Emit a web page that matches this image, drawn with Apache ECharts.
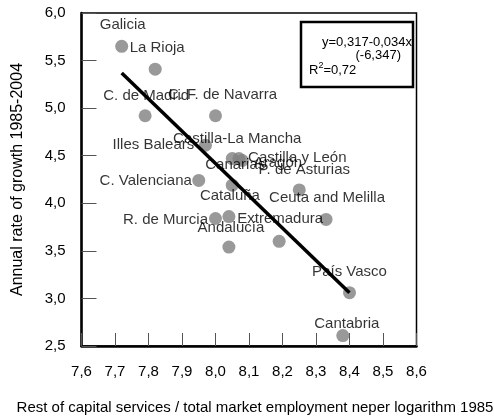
<!DOCTYPE html>
<html>
<head>
<meta charset="utf-8">
<script src="https://cdn.jsdelivr.net/npm/echarts@6/dist/echarts.min.js"></script>
<style>html,body{margin:0;padding:0;background:#fff}#c{width:494px;height:418px}</style>
</head>
<body>
<div id="c"></div>
<script>
var regions = ['Galicia','La Rioja','C. de Madrid','C. F. de Navarra','Illes Balears','Castilla-La Mancha','Aragón','Castilla y León','Canarias','C. Valenciana','P. de Asturias','Cataluña','R. de Murcia','Ceuta and Melilla','Extremadura','Andalucía','País Vasco','Cantabria'];
var capitalLog = [7.72,7.82,7.79,8.00,7.97,8.05,8.07,8.08,8.05,7.95,8.25,8.04,8.00,8.33,8.19,8.04,8.40,8.38];
var growthRate = [5.65,5.41,4.92,4.92,4.61,4.47,4.47,4.45,4.19,4.24,4.14,3.86,3.84,3.83,3.60,3.54,3.06,2.61];
var fitLineX = [7.72, 8.40];
var fitLineY = [5.37, 3.06];
var xTickLabels = ['7,6','7,7','7,8','7,9','8,0','8,1','8,2','8,3','8,4','8,5','8,6'];
var yTickLabels = ['2,5','3,0','3,5','4,0','4,5','5,0','5,5','6,0'];
var eqLine1 = 'y=0,317-0,034x';
var eqLine2 = '(-6,347)';
var r2Value = '0,72';

// label placement (pixel offsets of each label centre from its point)
var labelOffsets = {
  'Galicia':[1,-21],'La Rioja':[2,-21],'C. de Madrid':[1,-20],'C. F. de Navarra':[7,-21],
  'Illes Balears':[-52,0],'Castilla-La Mancha':[5,-20],'Aragón':[39,4],'Castilla y León':[55,-3],
  'Canarias':[3,-20],'C. Valenciana':[-53,0],'P. de Asturias':[5,-20],'Cataluña':[1,-21],
  'R. de Murcia':[-50,1],'Ceuta and Melilla':[1,-22],'Extremadura':[1,-22],'Andalucía':[2,-19],
  'País Vasco':[0,-21],'Cantabria':[4,-12]
};

var FONT = "'Liberation Sans', Arial, sans-serif";
var pts = regions.map(function(n,i){
  return {name:n, value:[capitalLog[i], growthRate[i]],
    label:{show:true, position:'inside', offset:labelOffsets[n]}};
});
var fit = fitLineX.map(function(x,i){return [x, fitLineY[i]];});

var chart = echarts.init(document.getElementById('c'));
chart.setOption({
  animation:false,
  backgroundColor:'#fff',
  grid:{left:81.5, right:77.5, top:13, bottom:72, show:true, borderColor:'#000', borderWidth:1.5,
    containLabel:false, outerBoundsMode:'none'},
  xAxis:{type:'value', min:7.6, max:8.6, interval:0.1,
    name:'Rest of capital services / total market employment neper logarithm 1985',
    nameLocation:'middle', nameGap:54,
    nameTextStyle:{fontFamily:FONT, fontSize:15, color:'#000', padding:[0,0,0,12]},
    axisLine:{show:true, lineStyle:{color:'#000', width:2.5}},
    axisTick:{show:true, inside:true, length:13, lineStyle:{color:'#555', width:1}},
    axisLabel:{margin:18, fontFamily:FONT, fontSize:15, color:'#000',
      formatter:function(v){return xTickLabels[Math.round((v-7.6)/0.1)];}},
    splitLine:{show:false}},
  yAxis:{type:'value', min:2.5, max:6.0, interval:0.5,
    name:'Annual rate of growth 1985-2004', nameLocation:'middle', nameGap:56,
    nameTextStyle:{fontFamily:FONT, fontSize:16, color:'#000'},
    axisLine:{show:true, lineStyle:{color:'#000', width:2.5}},
    axisTick:{show:true, inside:true, length:15, lineStyle:{color:'#555', width:1}},
    axisLabel:{margin:16, fontFamily:FONT, fontSize:15, color:'#000',
      formatter:function(v){return yTickLabels[Math.round((v-2.5)/0.5)];}},
    splitLine:{show:false}},
  series:[
    {type:'scatter', z:2, symbol:'circle', symbolSize:13, itemStyle:{color:'#808080'},
      label:{fontFamily:FONT, fontSize:15, color:'#000', formatter:'{b}'},
      data:pts},
    {type:'line', z:5, data:fit, symbol:'none', lineStyle:{color:'#000', width:3.5}}
  ],
  graphic:[
    {type:'rect', z:10, shape:{x:301, y:22, width:112, height:65}, style:{fill:'#fff', stroke:'#000', lineWidth:2.5}},
    {type:'text', z:11, x:412, y:42, style:{text:eqLine1, fontFamily:FONT, fontSize:13, fill:'#000', align:'right', verticalAlign:'middle'}},
    {type:'text', z:11, x:401, y:55, style:{text:eqLine2, fontFamily:FONT, fontSize:13, fill:'#000', align:'right', verticalAlign:'middle'}},
    {type:'text', z:11, x:309, y:70, style:{text:'R{s|2}=' + r2Value, fontFamily:FONT, fontSize:13, fill:'#000', align:'left', verticalAlign:'middle',
      rich:{s:{fontSize:9, fontFamily:FONT, fill:'#000', padding:[0,0,9,0]}}}}
  ]
});
</script>
</body>
</html>
